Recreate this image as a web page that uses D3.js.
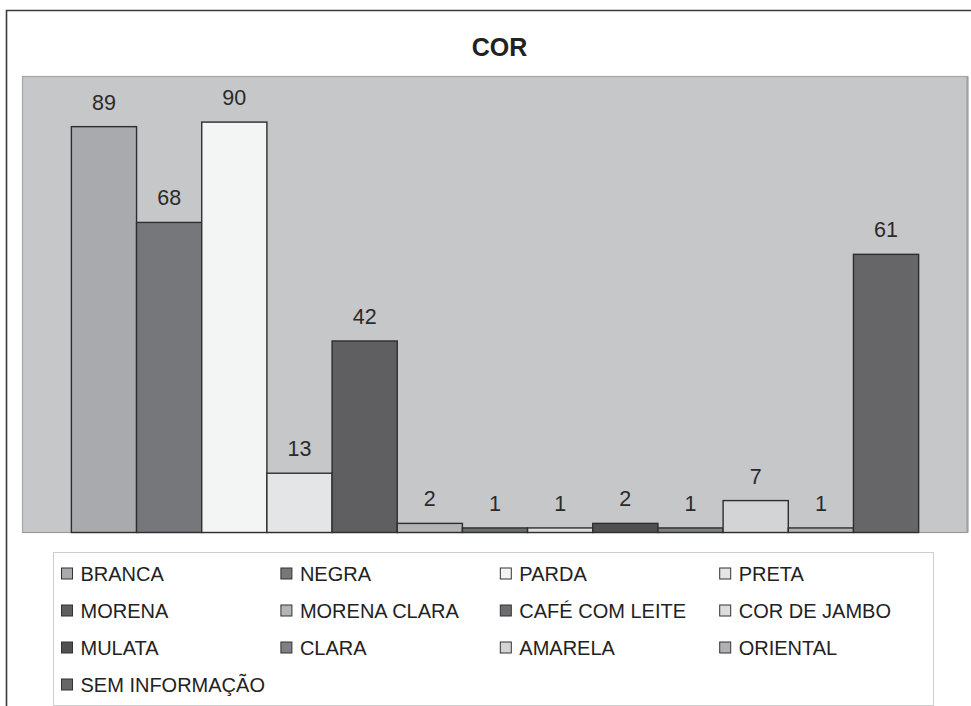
<!DOCTYPE html>
<html>
<head>
<meta charset="utf-8">
<script src="https://cdn.jsdelivr.net/npm/d3@7/dist/d3.min.js"></script>
<style>
  html, body { margin: 0; padding: 0; background: #ffffff; }
  svg { display: block; font-family: "Liberation Sans", Arial, sans-serif; }
</style>
</head>
<body>
<svg id="chart" width="971" height="706"></svg>
<script>
// Categories (one bar each) and their counts
const categories = [
  "BRANCA", "NEGRA", "PARDA", "PRETA", "MORENA", "MORENA CLARA",
  "CAFÉ COM LEITE", "COR DE JAMBO", "MULATA", "CLARA", "AMARELA",
  "ORIENTAL", "SEM INFORMAÇÃO"
];
const values = [89, 68, 90, 13, 42, 2, 1, 1, 2, 1, 7, 1, 61];

// Grey fill used for each category
const palette = [
  "#a9aaad", "#76777b", "#f3f4f4", "#e4e5e7", "#5f5f61", "#b3b4b7",
  "#6c6d70", "#dcdddf", "#505052", "#7f8083", "#d3d4d6",
  "#b0b1b4", "#666668"
];

const yTicks = [0, 100];
const title = "COR";

const svg = d3.select("#chart");

// Outer frame (top and left edges)
svg.append("path")
  .attr("d", "M6.5,706 L6.5,10.5 L971,10.5")
  .attr("fill", "none")
  .attr("stroke", "#3a3a3a")
  .attr("stroke-width", 1.6);

// Title
svg.append("text")
  .attr("x", 499.5)
  .attr("y", 56)
  .attr("text-anchor", "middle")
  .attr("font-size", 25)
  .attr("font-weight", "bold")
  .attr("fill", "#222")
  .text(title);

// Plot area
const plot = { left: 22.5, right: 967.5, top: 76.5, bottom: 532.5 };

svg.append("rect")
  .attr("x", plot.left)
  .attr("y", plot.top)
  .attr("width", plot.right - plot.left)
  .attr("height", plot.bottom - plot.top)
  .attr("fill", "#c6c7c9")
  .attr("stroke", "#a4a5a7")
  .attr("stroke-width", 1.2);

// Thicker right edge of the plot frame
svg.append("line")
  .attr("x1", plot.right).attr("x2", plot.right)
  .attr("y1", plot.top).attr("y2", plot.bottom)
  .attr("stroke", "#a0a1a3")
  .attr("stroke-width", 2.2);

// Bars form a single cluster with a 150% gap on each side
const plotW = plot.right - plot.left;
const barW = plotW / (categories.length + 1.5);
const x = d3.scaleBand()
  .domain(categories)
  .range([plot.left + barW * 0.75, plot.right - barW * 0.75])
  .padding(0);

const y = d3.scaleLinear()
  .domain(d3.extent(yTicks))
  .range([plot.bottom, plot.top]);

// Base line of the value axis
svg.append("line")
  .attr("x1", plot.left).attr("x2", plot.right)
  .attr("y1", plot.bottom).attr("y2", plot.bottom)
  .attr("stroke", "#9a9b9d")
  .attr("stroke-width", 1.2);

const data = categories.map((c, i) => ({ cat: c, value: values[i], color: palette[i] }));

svg.append("g")
  .selectAll("rect")
  .data(data)
  .join("rect")
  .attr("x", d => x(d.cat))
  .attr("y", d => y(d.value))
  .attr("width", x.bandwidth())
  .attr("height", d => y(0) - y(d.value))
  .attr("fill", d => d.color)
  .attr("stroke", "#2e2e2e")
  .attr("stroke-width", 1.4);

// Value labels above each bar
svg.append("g")
  .selectAll("text")
  .data(data)
  .join("text")
  .attr("x", d => x(d.cat) + x.bandwidth() / 2)
  .attr("y", d => y(d.value) - 17)
  .attr("text-anchor", "middle")
  .attr("font-size", 21.5)
  .attr("fill", "#2a2a2a")
  .text(d => d.value);

// Legend
const legend = { left: 53.5, top: 552.5, right: 933.5, bottom: 705.5 };
svg.append("rect")
  .attr("x", legend.left)
  .attr("y", legend.top)
  .attr("width", legend.right - legend.left)
  .attr("height", legend.bottom - legend.top)
  .attr("fill", "#ffffff")
  .attr("stroke", "#cccccc")
  .attr("stroke-width", 1);

const cols = 4;
const colStep = 219.4;
const rowStep = 37;
const firstSwatchX = 61;
const firstRowY = 573.5;

const items = svg.append("g")
  .selectAll("g")
  .data(data)
  .join("g")
  .attr("transform", (d, i) =>
    `translate(${firstSwatchX + (i % cols) * colStep},${firstRowY + Math.floor(i / cols) * rowStep})`);

items.append("rect")
  .attr("x", 0.5)
  .attr("y", -5.5)
  .attr("width", 11)
  .attr("height", 11)
  .attr("fill", d => d.color)
  .attr("stroke", "#333")
  .attr("stroke-width", 1);

items.append("text")
  .attr("x", 19.5)
  .attr("y", 7.3)
  .attr("font-size", 20)
  .attr("fill", "#222")
  .text(d => d.cat);
</script>
</body>
</html>
